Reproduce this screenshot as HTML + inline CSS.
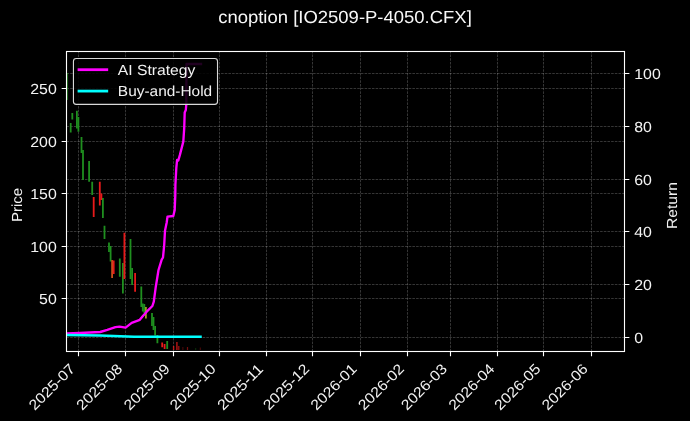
<!DOCTYPE html>
<html><head><meta charset="utf-8"><title>cnoption chart</title><style>html,body{margin:0;padding:0;background:#000;width:690px;height:421px;overflow:hidden}svg{display:block}text{text-rendering:geometricPrecision}</style></head><body><div style="will-change:transform;transform:translateZ(0)"><svg width="690" height="421" viewBox="0 0 690 421"><defs><clipPath id="ax"><rect x="66.5" y="51.5" width="558.0" height="300.0"/></clipPath></defs><rect width="690" height="421" fill="#000"/><path d="M78.5 351.5V51.5M125.5 351.5V51.5M173.5 351.5V51.5M219.5 351.5V51.5M266.5 351.5V51.5M312.5 351.5V51.5M360.5 351.5V51.5M407.5 351.5V51.5M450.5 351.5V51.5M497.5 351.5V51.5M543.5 351.5V51.5M591.5 351.5V51.5M66.5 88.5H624.5M66.5 141.5H624.5M66.5 193.5H624.5M66.5 246.5H624.5M66.5 298.5H624.5M66.5 337.5H624.5M66.5 284.5H624.5M66.5 231.5H624.5M66.5 179.5H624.5M66.5 126.5H624.5M66.5 73.5H624.5" stroke="#fff" stroke-opacity="0.3" stroke-width="0.694" stroke-dasharray="2.57 1.11" fill="none"/>
<g clip-path="url(#ax)">
<path d="M67.6 73.0V100.0" stroke="#1f8f1f" stroke-width="1.00" stroke-opacity="0.70"/>
<path d="M70.7 123.0V132.5" stroke="#1f8f1f" stroke-width="1.80"/>
<path d="M72.3 113.0V119.5" stroke="#1f8f1f" stroke-width="1.80"/>
<path d="M76.9 110.8V128.5" stroke="#1f8f1f" stroke-width="1.80"/>
<path d="M78.4 117.0V131.7" stroke="#1f8f1f" stroke-width="1.80"/>
<path d="M81.5 137.0V153.0" stroke="#1f8f1f" stroke-width="1.80"/>
<path d="M83.0 150.0V180.0" stroke="#1f8f1f" stroke-width="1.80"/>
<path d="M89.1 161.0V181.7" stroke="#1f8f1f" stroke-width="1.80"/>
<path d="M92.2 181.7V195.0" stroke="#1f8f1f" stroke-width="1.80"/>
<path d="M93.7 197.0V217.0" stroke="#e81a1a" stroke-width="1.80"/>
<path d="M99.8 181.7V205.5" stroke="#e81a1a" stroke-width="1.80"/>
<path d="M101.4 193.5V200.0" stroke="#e81a1a" stroke-width="1.80"/>
<path d="M102.9 198.0V218.0" stroke="#1f8f1f" stroke-width="1.80"/>
<path d="M104.5 225.7V239.0" stroke="#1f8f1f" stroke-width="1.80"/>
<path d="M109.0 242.5V252.0" stroke="#1f8f1f" stroke-width="1.80"/>
<path d="M110.6 246.0V261.5" stroke="#1f8f1f" stroke-width="1.80"/>
<path d="M112.1 260.0V278.0" stroke="#c8501c" stroke-width="1.80"/>
<path d="M113.7 260.5V274.0" stroke="#e81a1a" stroke-width="1.80"/>
<path d="M119.8 258.5V276.7" stroke="#1f8f1f" stroke-width="1.80"/>
<path d="M122.9 263.0V293.5" stroke="#1f8f1f" stroke-width="1.80"/>
<path d="M124.4 232.7V279.0" stroke="#e81a1a" stroke-width="1.80"/>
<path d="M130.5 239.0V279.0" stroke="#1f8f1f" stroke-width="1.80"/>
<path d="M132.1 268.0V285.0" stroke="#1f8f1f" stroke-width="1.80"/>
<path d="M135.1 273.0V291.7" stroke="#e81a1a" stroke-width="1.80"/>
<path d="M141.3 286.5V307.0" stroke="#1f8f1f" stroke-width="1.80"/>
<path d="M142.8 303.5V311.5" stroke="#1f8f1f" stroke-width="1.80"/>
<path d="M144.3 304.0V313.0" stroke="#1f8f1f" stroke-width="1.80"/>
<path d="M145.9 307.0V318.5" stroke="#9a9a22" stroke-width="1.80"/>
<path d="M152.0 313.0V326.0" stroke="#1f8f1f" stroke-width="1.80"/>
<path d="M153.5 317.0V330.0" stroke="#1f8f1f" stroke-width="1.80"/>
<path d="M155.1 326.0V335.6" stroke="#1f8f1f" stroke-width="1.80"/>
<path d="M157.4 335.0V343.2" stroke="#1f8f1f" stroke-width="1.80"/>
<path d="M162.2 342.6V347.2" stroke="#e81a1a" stroke-width="1.80"/>
<path d="M164.6 344.0V349.0" stroke="#e81a1a" stroke-width="1.80"/>
<path d="M167.2 341.0V349.0" stroke="#1f8f1f" stroke-width="1.80"/>
<path d="M173.6 346.0V350.0" stroke="#e81a1a" stroke-width="1.40" stroke-opacity="0.80"/>
<path d="M176.9 342.0V350.0" stroke="#e81a1a" stroke-width="1.40" stroke-opacity="0.80"/>
<path d="M178.8 346.0V350.0" stroke="#e81a1a" stroke-width="1.20" stroke-opacity="0.70"/>
<path d="M182.9 347.0V350.0" stroke="#e81a1a" stroke-width="1.00" stroke-opacity="0.35"/>
<path d="M187.5 347.0V350.0" stroke="#e81a1a" stroke-width="1.20" stroke-opacity="0.50"/>
<path d="M195.7 348.0V350.0" stroke="#1f8f1f" stroke-width="1.00" stroke-opacity="0.35"/>
<path d="M200.3 347.5V350.0" stroke="#e81a1a" stroke-width="1.00" stroke-opacity="0.35"/>
<path d="M66.5 333.5 L80.0 333.0 L100.2 332.0 L107.3 329.9 L115.4 327.2 L119.5 326.6 L125.6 327.6 L131.7 322.8 L139.8 319.8 L142.9 316.0 L146.7 311.7 L152.4 306.0 L153.8 301.7 L155.8 286.7 L158.5 270.0 L161.7 259.6 L163.0 257.5 L164.2 245.0 L165.0 230.8 L166.7 222.5 L167.5 216.7 L173.3 216.0 L174.7 210.0 L175.3 195.0 L175.4 184.8 L176.3 168.2 L177.1 159.9 L178.3 160.5 L179.9 154.9 L183.3 141.6 L184.2 128.3 L184.7 112.5 L185.8 110.0 L186.3 104.5 L186.5 64.0 L201.0 64.0" stroke="#f0f" stroke-width="2.35" fill="none" stroke-linejoin="round" stroke-linecap="square"/>
<path d="M60.0 335.0 L100.0 335.6 L134.0 336.7 L200.5 336.7" stroke="#0ff" stroke-width="2.5" fill="none" stroke-linejoin="round" stroke-linecap="square"/>
</g>
<rect x="66.5" y="51.5" width="558.0" height="300.0" fill="none" stroke="#fff" stroke-width="1.111"/>
<path d="M78.5 351.5v4.861M125.5 351.5v4.861M173.5 351.5v4.861M219.5 351.5v4.861M266.5 351.5v4.861M312.5 351.5v4.861M360.5 351.5v4.861M407.5 351.5v4.861M450.5 351.5v4.861M497.5 351.5v4.861M543.5 351.5v4.861M591.5 351.5v4.861M66.5 88.5h-4.861M66.5 141.5h-4.861M66.5 193.5h-4.861M66.5 246.5h-4.861M66.5 298.5h-4.861M624.5 337.5h4.861M624.5 284.5h4.861M624.5 231.5h4.861M624.5 179.5h4.861M624.5 126.5h4.861M624.5 73.5h4.861" stroke="#fff" stroke-width="1.111" fill="none"/>
<g fill="#f2f2f2" font-family="'Liberation Sans', sans-serif">
<g transform="translate(34.823 410.919) rotate(-45)"><text x="0.000" y="0.000" font-size="14.583" textLength="58.031" lengthAdjust="spacingAndGlyphs">2025-07</text></g>
<g transform="translate(82.293 410.919) rotate(-45)"><text x="0.000" y="0.000" font-size="14.583" textLength="58.031" lengthAdjust="spacingAndGlyphs">2025-08</text></g>
<g transform="translate(129.764 410.919) rotate(-45)"><text x="0.000" y="0.000" font-size="14.583" textLength="58.031" lengthAdjust="spacingAndGlyphs">2025-09</text></g>
<g transform="translate(175.703 410.919) rotate(-45)"><text x="0.000" y="0.000" font-size="14.583" textLength="58.031" lengthAdjust="spacingAndGlyphs">2025-10</text></g>
<g transform="translate(223.173 410.919) rotate(-45)"><text x="0.000" y="0.000" font-size="14.583" textLength="58.031" lengthAdjust="spacingAndGlyphs">2025-11</text></g>
<g transform="translate(269.112 410.919) rotate(-45)"><text x="0.000" y="0.000" font-size="14.583" textLength="58.031" lengthAdjust="spacingAndGlyphs">2025-12</text></g>
<g transform="translate(316.582 410.919) rotate(-45)"><text x="0.000" y="0.000" font-size="14.583" textLength="58.031" lengthAdjust="spacingAndGlyphs">2026-01</text></g>
<g transform="translate(364.053 410.919) rotate(-45)"><text x="0.000" y="0.000" font-size="14.583" textLength="58.031" lengthAdjust="spacingAndGlyphs">2026-02</text></g>
<g transform="translate(406.929 410.919) rotate(-45)"><text x="0.000" y="0.000" font-size="14.583" textLength="58.031" lengthAdjust="spacingAndGlyphs">2026-03</text></g>
<g transform="translate(454.399 410.919) rotate(-45)"><text x="0.000" y="0.000" font-size="14.583" textLength="58.031" lengthAdjust="spacingAndGlyphs">2026-04</text></g>
<g transform="translate(500.338 410.919) rotate(-45)"><text x="0.000" y="0.000" font-size="14.583" textLength="58.031" lengthAdjust="spacingAndGlyphs">2026-05</text></g>
<g transform="translate(547.808 410.919) rotate(-45)"><text x="0.000" y="0.000" font-size="14.583" textLength="58.031" lengthAdjust="spacingAndGlyphs">2026-06</text></g>
<text x="30.268" y="93.777" font-size="14.583" textLength="26.510" lengthAdjust="spacingAndGlyphs">250</text>
<text x="30.268" y="146.777" font-size="14.583" textLength="26.510" lengthAdjust="spacingAndGlyphs">200</text>
<text x="30.268" y="198.777" font-size="14.583" textLength="26.510" lengthAdjust="spacingAndGlyphs">150</text>
<text x="30.268" y="251.777" font-size="14.583" textLength="26.510" lengthAdjust="spacingAndGlyphs">100</text>
<text x="39.105" y="303.777" font-size="14.583" textLength="17.673" lengthAdjust="spacingAndGlyphs">50</text>
<text x="634.222" y="342.777" font-size="14.583" textLength="8.837" lengthAdjust="spacingAndGlyphs">0</text>
<text x="634.222" y="289.777" font-size="14.583" textLength="17.673" lengthAdjust="spacingAndGlyphs">20</text>
<text x="634.222" y="236.777" font-size="14.583" textLength="17.673" lengthAdjust="spacingAndGlyphs">40</text>
<text x="634.222" y="184.777" font-size="14.583" textLength="17.673" lengthAdjust="spacingAndGlyphs">60</text>
<text x="634.222" y="131.777" font-size="14.583" textLength="17.673" lengthAdjust="spacingAndGlyphs">80</text>
<text x="634.222" y="78.777" font-size="14.583" textLength="26.510" lengthAdjust="spacingAndGlyphs">100</text>
<text x="4.760" y="205.000" font-size="14.583" textLength="34.126" lengthAdjust="spacingAndGlyphs" transform="rotate(-90 21.823 205.000)">Price</text>
<text x="653.364" y="205.500" font-size="14.583" textLength="46.957" lengthAdjust="spacingAndGlyphs" transform="rotate(-90 676.842 205.500)">Return</text>
<g fill="#f8f8f8"><text x="218.191" y="22.600" font-size="17.500" textLength="253.618" lengthAdjust="spacingAndGlyphs">cnoption [IO2509-P-4050.CFX]</text></g>
</g>
<path d="M73.44 61.22Q73.44 58.44 76.22 58.44H214.74Q217.52 58.44 217.52 61.22V101.60Q217.52 104.38 214.74 104.38H76.22Q73.44 104.38 73.44 101.60Z" fill="#000" fill-opacity="0.87" stroke="#d8d8d8" stroke-width="1.111"/>
<path d="M79.0 69.69H106.78" stroke="#f0f" stroke-width="2.78" stroke-linecap="square"/>
<path d="M79.0 91.08H106.78" stroke="#0ff" stroke-width="2.78" stroke-linecap="square"/>
<g fill="#f2f2f2" font-family="'Liberation Sans', sans-serif">
<text x="117.889" y="74.553" font-size="14.583" textLength="77.522" lengthAdjust="spacingAndGlyphs">AI Strategy</text>
<text x="117.889" y="95.940" font-size="14.583" textLength="94.320" lengthAdjust="spacingAndGlyphs">Buy-and-Hold</text>
</g></svg></div></body></html>
